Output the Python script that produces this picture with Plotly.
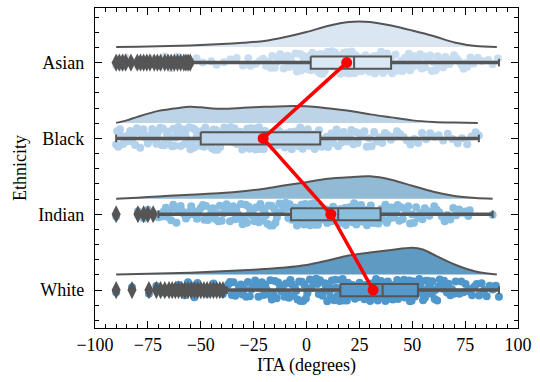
import plotly.graph_objects as go

# ---------------- data ----------------
groups = ["Asian", "Black", "Indian", "White"]

# half-violin (cloud) density estimates (relative units) on x grids
cloud_x = {
    "Asian":  [-90, -80, -70, -60, -50, -40, -30, -20, -10, 0, 10, 20, 30, 40, 50, 60, 70, 80, 90],
    "Black":  [-90, -85, -80, -70, -60, -55, -50, -40, -30, -20, -10, 0, 10, 20, 30, 40, 50, 60, 70, 81],
    "Indian": [-90, -80, -70, -60, -50, -40, -30, -20, -10, 0, 10, 20, 30, 40, 50, 60, 70, 80, 88],
    "White":  [-90, -80, -70, -60, -50, -40, -30, -20, -10, 0, 10, 20, 30, 40, 50, 55, 60, 70, 80, 90],
}
cloud_d = {
    "Asian":  [0, 0.3, 0.7, 1.2, 2, 3, 4.3, 6, 10, 15, 21, 25, 25, 21.5, 16.5, 11, 4.5, 1, 0],
    "Black":  [0, 2.5, 6, 12, 15, 16, 15.5, 14, 15, 16, 16.7, 16.5, 14.5, 12, 8.5, 5.5, 2.5, 1, 0.4, 0],
    "Indian": [0, 1, 2.3, 3.5, 4.5, 5.7, 7.5, 10, 13.5, 16.5, 20, 21.5, 22.3, 19, 13, 7, 2.8, 0.8, 0],
    "White":  [0, 0.5, 1, 1.5, 2.2, 3.3, 4.3, 5.5, 7, 9.5, 14, 19, 22, 24.5, 26.7, 25, 20, 10, 3, 0],
}

# box-plot summaries
q1 = [2, -50, -7.3, 16]
median = [22.5, -19.6, 15, 36]
q3 = [40, 6.5, 35, 52.7]
whisk_lo = [-54, -90, -70, -37.6]
whisk_hi = [91, 81.5, 88, 91]
means = [19, -20.5, 11.5, 31.5]

# outliers
outliers = {
    "Asian": [-90, -88.5, -87, -85.5, -83, -80, -78.5, -77, -75.5, -74, -72, -70.5, -69, -67,
              -65.5, -64, -62.5, -61, -59.5, -58, -57, -56, -55],
    "Black": [],
    "Indian": [-90, -79.7, -77, -75, -72.5],
    "White": [-90, -82.5, -74.5, -71, -69, -67, -65, -63.5, -62, -60.5, -59, -57.5, -56, -54.5,
              -53, -51.5, -50, -48.5, -47, -45.5, -44, -42.5, -41, -39.5],
}

# individual observations (rain)
points_asian = [
    -90, -88.5, -87, -85.5, -83, -80, -78.5, -77, -75.5, -74, -72, -70.5, -69, -67,
    -65.5, -64, -62.5, -61, -59.5, -58, -57, -56, -55,
    -49, -42.5, -36, -30, -26.5, -22,
    -20.5, -18, -16.2, -14, -12.5, -10.8, -9, -7.6, -6, -4.5, -3.2, -2, -0.8, 0.5, 1.6,
    2.8, 3.9, 5, 6.1, 7, 8.2, 9.1, 10, 11, 11.8, 12.7, 13.5, 14.4, 15.2, 16, 16.9, 17.6,
    18.4, 19.1, 19.9, 20.6, 21.4, 22.1, 22.9, 23.6, 24.4, 25.2, 25.9, 26.7, 27.5, 28.2,
    29, 29.8, 30.6, 31.5, 32.3, 33.2, 34, 34.9, 35.8, 36.7, 37.6, 38.6, 39.5, 40.5, 41.6,
    42.6, 43.7, 44.8, 46, 47.2, 48.4, 49.7, 51, 52.4, 53.8, 55.3, 56.9, 58.5, 60.2, 62,
    63.8, 65.7, 67.6, 69.8, 72, 74.3, 76, 79, 83, 86, 90.5,
    -52, -45, -39, -33, -27.5, -24, -19.2, -17, -15, -13.2, -11.6, -9.9, -8.3, -6.8, -5.2,
    -3.8, -2.6, -1.4, -0.1, 1.1, 2.2, 3.3, 4.4, 5.5, 6.6, 7.6, 8.6, 9.5, 10.5, 11.4, 12.2,
    13.1, 13.9, 14.8, 15.6, 16.4, 17.2, 18, 18.8, 19.5, 20.3, 21, 21.8, 22.5, 23.3, 24,
    24.8, 25.6, 26.3, 27.1, 27.9, 28.6, 29.4, 30.2, 31, 31.9, 32.7, 33.6, 34.5, 35.3, 36.2,
    37.1, 38.1, 39, 40, 41, 42.1, 43.1, 44.2, 45.4, 46.6, 47.8, 49, 50.3, 51.7, 53.1, 54.5,
    56.1, 57.7, 59.3, 61.1, 62.9, 64.7, 66.6, 68.7, 70.9, 73.2, 75.1, 77.5, 81, 88,
]
points_black = [
    -90, -89, -87.5, -86, -84.2, -82.5, -81, -79.3, -77.8, -76.5, -75, -73.7, -72.3, -71,
    -69.8, -68.5, -67.3, -66, -64.8, -63.6, -62.4, -61.2, -60, -58.9, -57.7, -56.6, -55.4,
    -54.3, -53.1, -52, -50.8, -49.6, -48.4, -47.2, -46, -44.7, -43.4, -42.1, -40.8, -39.5,
    -38.3, -37, -35.8, -34.6, -33.4, -32.2, -31, -29.8, -28.6, -27.5, -26.3, -25.2, -24,
    -22.9, -21.8, -20.7, -19.6, -18.5, -17.4, -16.3, -15.2, -14.1, -13, -11.9, -10.8, -9.7,
    -8.6, -7.5, -6.4, -5.3, -4.2, -3, -1.8, -0.6, 0.6, 1.9, 3.2, 4.5, 5.9, 7.3, 8.7, 10.2,
    11.8, 13.4, 15, 16.7, 18.5, 20.3, 22.2, 24.2, 26.3, 28.5, 30.8, 33.2, 35.8, 38.5, 41.3,
    44.3, 47.5, 51, 54.6, 58.5, 62.5, 66.8, 71.5, 76, 80, 81.5,
    -89.5, -88.2, -86.8, -85, -83.4, -81.8, -80.2, -78.6, -77.1, -75.8, -74.4, -73, -71.7,
    -70.4, -69.2, -67.9, -66.7, -65.4, -64.2, -63, -61.8, -60.6, -59.5, -58.3, -57.2, -56,
    -54.9, -53.7, -52.6, -51.4, -50.2, -49, -47.8, -46.6, -45.4, -44, -42.8, -41.5, -40.2,
    -38.9, -37.7, -36.4, -35.2, -34, -32.8, -31.6, -30.4, -29.2, -28, -26.9, -25.8, -24.6,
    -23.5, -22.4, -21.3, -20.2, -19.1, -18, -16.9, -15.8, -14.7, -13.6, -12.5, -11.4, -10.3,
    -9.2, -8.1, -7, -5.9, -4.8, -3.6, -2.4, -1.2, 0, 1.2, 2.5, 3.9, 5.2, 6.6, 8, 9.5, 11,
    12.6, 14.2, 15.9, 17.6, 19.4, 21.2, 23.2, 25.2, 27.4, 29.6, 32, 34.5, 37.1, 39.9, 42.8,
    45.9, 49.2, 52.8, 56.5, 60.5, 64.6, 69, 73.5, 78,
]
points_indian = [
    -90, -79.7, -77, -75, -72.5,
    -70, -68.5, -66.5, -65, -63, -61.5, -59.5, -58, -56, -54.5, -52.5, -51, -49, -47.5,
    -45.8, -44.2, -42.5, -41, -39.3, -37.8, -36.2, -34.7, -33.2, -31.7, -30.2, -28.8,
    -27.4, -26, -24.6, -23.2, -21.8, -20.5, -19.2, -17.9, -16.6, -15.3, -14, -12.8,
    -11.6, -10.4, -9.2, -8, -6.8, -5.6, -4.5, -3.4, -2.3, -1.2, -0.1, 1, 2.1, 3.2, 4.3,
    5.4, 6.5, 7.6, 8.7, 9.8, 10.9, 12, 13.1, 14.2, 15.3, 16.4, 17.5, 18.6, 19.7, 20.8,
    21.9, 23, 24.1, 25.2, 26.3, 27.4, 28.6, 29.8, 31, 32.2, 33.4, 34.7, 36, 37.3, 38.7,
    40.1, 41.6, 43.1, 44.7, 46.4, 48.1, 49.9, 51.8, 53.8, 55.9, 58.1, 60.4, 62.8, 65.3,
    68, 70.8, 73.7, 76.5, 88,
    -69.2, -67.5, -65.8, -64, -62.2, -60.5, -58.8, -57, -55.2, -53.5, -51.8, -50, -48.3,
    -46.6, -45, -43.3, -41.7, -40.1, -38.5, -37, -35.4, -33.9, -32.4, -31, -29.5, -28.1,
    -26.7, -25.3, -23.9, -22.5, -21.1, -19.8, -18.5, -17.2, -16, -14.7, -13.4, -12.2, -11,
    -9.8, -8.6, -7.4, -6.2, -5, -3.9, -2.8, -1.7, -0.6, 0.5, 1.6, 2.7, 3.8, 4.9, 6, 7.1,
    8.2, 9.3, 10.4, 11.5, 12.6, 13.7, 14.8, 15.9, 17, 18.1, 19.2, 20.3, 21.4, 22.5, 23.6,
    24.7, 25.8, 26.9, 28, 29.2, 30.4, 31.6, 32.8, 34, 35.3, 36.6, 38, 39.4, 40.8, 42.3,
    43.9, 45.5, 47.2, 49, 50.8, 52.8, 54.8, 57, 59.2, 61.6, 64, 66.6, 69.4, 72.2, 75.1, 77.2,
]
points_white = [
    -90, -82.5, -74.5, -71, -69, -67, -65, -63.5, -62, -60.5, -59, -57.5, -56, -54.5,
    -53, -51.5, -50, -48.5, -47, -45.5, -44, -42.5, -41, -39.5,
    -37, -35.3, -33.6, -31.9, -30.2, -28.5, -26.8, -25.1, -23.5, -21.9, -20.3, -18.7,
    -17.1, -15.6, -14.1, -12.6, -11.1, -9.7, -8.3, -6.9, -5.5, -4.2, -2.9, -1.6, -0.3, 1,
    2.2, 3.4, 4.6, 5.8, 7, 8.1, 9.2, 10.3, 11.4, 12.5, 13.6, 14.6, 15.6, 16.6, 17.6, 18.6,
    19.6, 20.6, 21.5, 22.4, 23.3, 24.2, 25.1, 26, 26.9, 27.8, 28.7, 29.6, 30.5, 31.3,
    32.1, 32.9, 33.7, 34.5, 35.3, 36.1, 36.9, 37.7, 38.5, 39.3, 40.1, 40.9, 41.7, 42.5,
    43.3, 44.1, 44.9, 45.7, 46.5, 47.3, 48.1, 48.9, 49.7, 50.5, 51.3, 52.1, 52.9, 53.7,
    54.6, 55.5, 56.4, 57.4, 58.4, 59.5, 60.6, 61.8, 63, 64.3, 65.7, 67.2, 68.8, 70.5,
    72.3, 74.2, 76.2, 78.3, 80.5, 82.8, 85.2, 88, 91,
    -58, -52, -46, -38.2, -36.2, -34.5, -32.8, -31, -29.4, -27.7, -26, -24.3, -22.7, -21.1,
    -19.5, -17.9, -16.4, -14.9, -13.4, -11.9, -10.4, -9, -7.6, -6.2, -4.9, -3.5, -2.2, -1,
    0.4, 1.6, 2.8, 4, 5.2, 6.4, 7.6, 8.7, 9.8, 10.9, 12, 13.1, 14.1, 15.1, 16.1, 17.1, 18.1,
    19.1, 20.1, 21.1, 22, 22.9, 23.8, 24.7, 25.6, 26.5, 27.4, 28.3, 29.2, 30.1, 30.9, 31.7,
    32.5, 33.3, 34.1, 34.9, 35.7, 36.5, 37.3, 38.1, 38.9, 39.7, 40.5, 41.3, 42.1, 42.9,
    43.7, 44.5, 45.3, 46.1, 46.9, 47.7, 48.5, 49.3, 50.1, 50.9, 51.7, 52.5, 53.3, 54.2,
    55.1, 56, 56.9, 57.9, 58.9, 60, 61.2, 62.4, 63.6, 65, 66.4, 68, 69.6, 71.4, 73.2, 75.2,
    77.2, 79.4, 81.6, 84, 86.6, 89.5,
]
points = {"Asian": points_asian, "Black": points_black,
          "Indian": points_indian, "White": points_white}

# ---------------- styles ----------------
cloud_colors = ["#dae6f2", "#bdd4e7", "#91bad5", "#5f9ac2"]
point_colors = ["#c9ddf0", "#b4d2eb", "#87bde0", "#4f97cb"]
box_colors = ["#dae8f5", "#bcd6ec", "#8bbfe0", "#5399cb"]
GRAY = "#555555"
CLOUD_SCALE = 1 / 75.7
CLOUD_OFF = 0.205
BOX_H = 0.08
CAP_H = 0.05
FONT = "Liberation Serif, Times New Roman, serif"
FS = 18

fig = go.Figure()

for i, g in enumerate(groups):
    c = i
    xs = cloud_x[g]
    ys = [c - CLOUD_OFF - d * CLOUD_SCALE for d in cloud_d[g]]
    fig.add_trace(go.Scatter(
        x=xs, y=ys, mode="lines", fill="toself", fillcolor=cloud_colors[i],
        line=dict(color=GRAY, width=2, shape="spline", smoothing=0.8),
        showlegend=False, hoverinfo="skip"))

for i, g in enumerate(groups):
    fig.add_trace(go.Box(
        x=points[g], y=[i] * len(points[g]), orientation="h",
        boxpoints="all", jitter=0.95, pointpos=0, width=0.32,
        fillcolor="rgba(0,0,0,0)", line=dict(width=0, color="rgba(0,0,0,0)"),
        whiskerwidth=0,
        marker=dict(color=point_colors[i], size=8, line=dict(width=0)),
        showlegend=False, hoverinfo="skip"))

for i, g in enumerate(groups):
    c = i
    fig.add_trace(go.Scatter(
        x=[whisk_lo[i], q1[i], None, q3[i], whisk_hi[i]], y=[c, c, None, c, c],
        mode="lines", line=dict(color=GRAY, width=3.5), showlegend=False, hoverinfo="skip"))
    fig.add_trace(go.Scatter(
        x=[whisk_lo[i], whisk_lo[i], None, whisk_hi[i], whisk_hi[i]],
        y=[c - CAP_H, c + CAP_H, None, c - CAP_H, c + CAP_H],
        mode="lines", line=dict(color=GRAY, width=2), showlegend=False, hoverinfo="skip"))
    fig.add_trace(go.Scatter(
        x=[q1[i], q3[i], q3[i], q1[i], q1[i]],
        y=[c - BOX_H, c - BOX_H, c + BOX_H, c + BOX_H, c - BOX_H],
        mode="lines", fill="toself", fillcolor=box_colors[i],
        line=dict(color=GRAY, width=2), showlegend=False, hoverinfo="skip"))
    fig.add_trace(go.Scatter(
        x=[median[i], median[i]], y=[c - BOX_H, c + BOX_H],
        mode="lines", line=dict(color=GRAY, width=2), showlegend=False, hoverinfo="skip"))
    if outliers[g]:
        fig.add_trace(go.Scatter(
            x=outliers[g], y=[c] * len(outliers[g]), mode="markers",
            marker=dict(symbol="diamond-tall", size=13, color=GRAY, line=dict(width=0)),
            showlegend=False, hoverinfo="skip"))

fig.add_trace(go.Scatter(
    x=means, y=list(range(len(groups))), mode="lines+markers",
    line=dict(color="#ff0000", width=3.5),
    marker=dict(symbol="circle", size=11, color="#ff0000"),
    showlegend=False, hoverinfo="skip"))

axis_common = dict(
    showline=True, linecolor="black", linewidth=1.3, mirror="allticks",
    ticks="inside", ticklen=7, tickwidth=1, tickcolor="black",
    showgrid=False, zeroline=False,
    tickfont=dict(family=FONT, size=FS, color="black"),
)

fig.update_layout(
    width=540, height=382,
    margin=dict(l=95, r=22, t=8, b=54),
    paper_bgcolor="white", plot_bgcolor="white",
    font=dict(family=FONT, size=FS, color="black"),
    xaxis=dict(
        range=[-100, 100], tickvals=[-100, -75, -50, -25, 0, 25, 50, 75, 100],
        ticktext=["\u2212100", "\u221275", "\u221250", "\u221225", "0", "25", "50", "75", "100"],
        minor=dict(dtick=5, tick0=0, ticks="inside", ticklen=3.5, tickcolor="black", tickwidth=1),
        title=dict(text="ITA (degrees)", font=dict(family=FONT, size=FS), standoff=4),
        **axis_common),
    yaxis=dict(
        range=[3.5, -0.72], tickvals=[0, 1, 2, 3], ticktext=groups,
        ticklabelstandoff=6,
        minor=dict(dtick=0.2, tick0=0, ticks="inside", ticklen=3.5, tickcolor="black", tickwidth=1),
        title=dict(text="Ethnicity", font=dict(family=FONT, size=FS), standoff=6),
        **axis_common),
)

fig.write_html("out.html")
